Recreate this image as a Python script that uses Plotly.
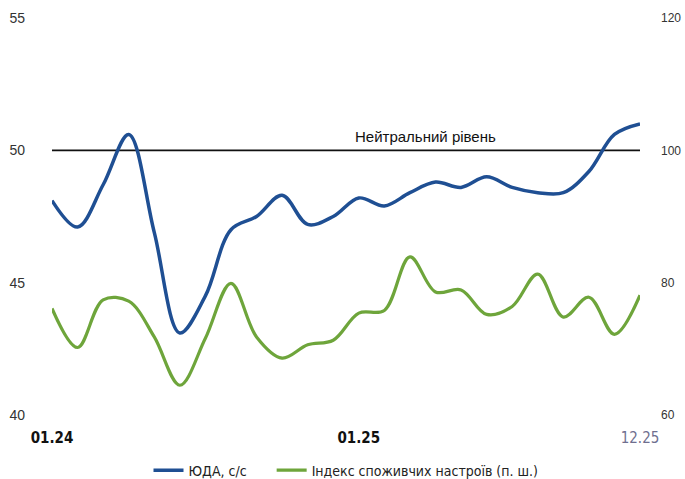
import plotly.graph_objects as go

# Monthly observations, 01.24 .. 12.25
months = [f"{m:02d}.{y}" for y in (24, 25) for m in range(1, 13)]

# Business activity expectations index (left axis)
yuda = [48.1, 47.1, 48.7, 50.6, 46.9, 43.1, 44.5, 47.0, 47.5, 48.3, 47.2, 47.5,
        48.2, 47.9, 48.4, 48.8, 48.6, 49.0, 48.6, 48.4, 48.4, 49.2, 50.6, 51.0]

# Consumer sentiment index (right axis)
consumer = [76.1, 70.2, 77.4, 77.2, 71.8, 64.5, 71.6, 79.9, 71.8, 68.6, 70.6, 71.3,
            75.4, 75.8, 83.9, 78.6, 78.9, 75.2, 76.4, 81.3, 74.8, 77.8, 72.2, 78.1]

NEUTRAL = 50
left_ticks = [40, 45, 50, 55]
right_ticks = [60, 80, 100, 120]
x_ticks = ["01.24", "01.25", "12.25"]

FONT = "Liberation Sans Narrow, DejaVu Sans Condensed, Arial Narrow, sans-serif"
BLUE = "#1f4f93"
GREEN = "#6ea53b"

idx = list(range(len(months)))

fig = go.Figure()

fig.add_trace(go.Scatter(
    x=[idx[0], idx[-1]], y=[NEUTRAL, NEUTRAL], mode="lines",
    line=dict(color="#111111", width=1.6), showlegend=False, hoverinfo="skip"))

fig.add_trace(go.Scatter(
    x=idx, y=yuda, mode="lines", name="ЮДА, с/с\u00a0\u00a0\u00a0\u00a0\u00a0",
    line=dict(color=BLUE, width=3.5, shape="spline", smoothing=1.0)))

fig.add_trace(go.Scatter(
    x=idx, y=consumer, mode="lines", name="Індекс споживчих настроїв (п. ш.)",
    yaxis="y2",
    line=dict(color=GREEN, width=3.2, shape="spline", smoothing=1.0)))

fig.add_annotation(
    x=14.6, y=NEUTRAL, xref="x", yref="y", text="Нейтральний рівень",
    showarrow=False, yshift=14,
    font=dict(family="Liberation Sans, Arial, sans-serif", size=15, color="#111111"))

tick_pos = [months.index(m) for m in x_ticks]
tick_txt = ["<b>01.24</b>", "<b>01.25</b>", "<span style='color:#6f6f8f'>12.25</span>"]

fig.update_layout(
    width=685, height=479,
    margin=dict(l=52, r=45, t=18, b=64, autoexpand=False),
    paper_bgcolor="white", plot_bgcolor="white",
    font=dict(family=FONT, size=14, color="#222222"),
    xaxis=dict(range=[0, len(months) - 1], tickmode="array",
               tickvals=tick_pos, ticktext=tick_txt,
               showgrid=False, zeroline=False, showline=False,
               ticks="", ticklabelstandoff=12, automargin=False,
               tickfont=dict(family=FONT, size=15, color="#111111")),
    yaxis=dict(range=[40, 55], tickmode="array", tickvals=left_ticks,
               showgrid=False, zeroline=False, showline=False, ticks="",
               ticklabelstandoff=26, automargin=False,
               tickfont=dict(family="Liberation Sans, Arial, sans-serif", size=14, color="#333333")),
    yaxis2=dict(range=[60, 120], tickmode="array", tickvals=right_ticks,
                overlaying="y", side="right",
                showgrid=False, zeroline=False, showline=False, ticks="",
                ticklabelstandoff=20, automargin=False,
                tickfont=dict(family="Liberation Sans, Arial, sans-serif", size=12, color="#333333")),
    legend=dict(orientation="h", x=0.5, xanchor="center", y=-0.14, yanchor="middle",
                font=dict(family=FONT, size=14, color="#222222"),
                itemwidth=30, tracegroupgap=0),
    showlegend=True,
)

fig.write_html("out.html")
